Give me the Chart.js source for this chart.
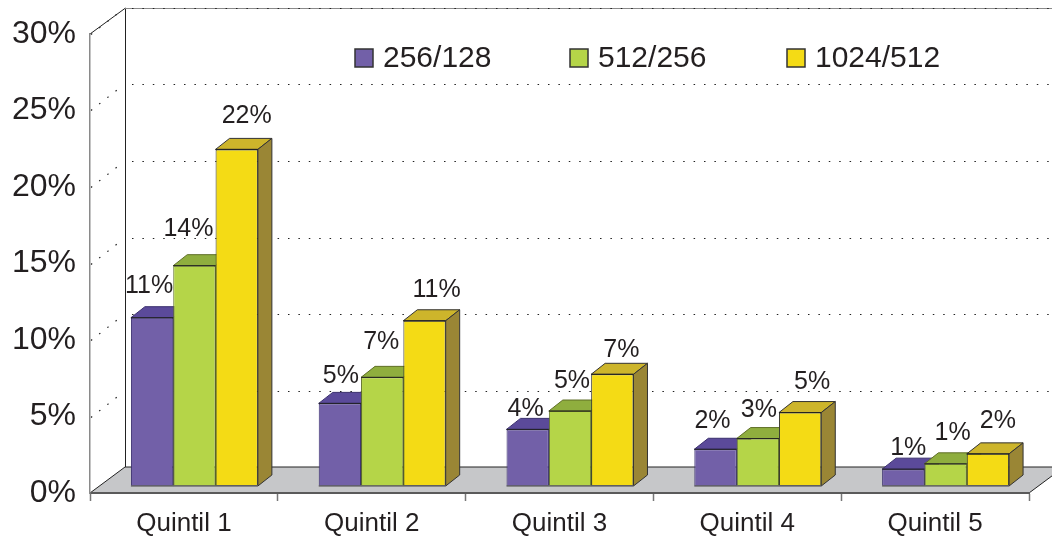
<!DOCTYPE html>
<html>
<head>
<meta charset="utf-8">
<title>Quintil</title>
<script src="https://cdn.jsdelivr.net/npm/chart.js@4"></script>
<style>
    html, body { margin: 0; padding: 0; background: #fff; }
    #wrap { width: 1052px; height: 539px; }
</style>
</head>
<body>
<div id="wrap"><canvas id="myChart"></canvas></div>
<script>
var categories = ['Quintil 1', 'Quintil 2', 'Quintil 3', 'Quintil 4', 'Quintil 5'];
var seriesNames = ['256/128', '512/256', '1024/512'];
var low = [11, 5.4, 3.7, 2.4, 1.1];
var mid = [14.4, 7.1, 4.9, 3.1, 1.45];
var high = [22, 10.8, 7.3, 4.8, 2.1];
var yTicks = [0, 5, 10, 15, 20, 25, 30];

// label offsets from the bar's top centre, the original labels were placed by hand
var lowLabelShift = [[-3, -34], [1, -29], [-2, -22], [-3, -30], [5, -23]];
var midLabelShift = [[-6, -39], [-1, -37], [2, -32], [1, -30], [7, -33]];
var highLabelShift = [[10, -35], [12, -33], [9, -26], [12, -32], [10, -35]];

var legendBoxX = [355, 570, 787];

var ink = '#231f20';
var DEPTH_X = 14, DEPTH_Y = 11;      // depth of one bar
var SHIFT_X = 10.5, SHIFT_Y = 7;     // bars stand a bit behind the front edge
var WALL_X = 35, WALL_Y = 26;        // depth of the floor

function poly(ctx, pts, fill, stroke) {
    ctx.beginPath();
    ctx.moveTo(pts[0][0], pts[0][1]);
    for (var i = 1; i < pts.length; i++) ctx.lineTo(pts[i][0], pts[i][1]);
    ctx.closePath();
    if (fill) { ctx.fillStyle = fill; ctx.fill(); }
    if (stroke) { ctx.strokeStyle = stroke; ctx.lineWidth = 1; ctx.stroke(); }
}

function hline(ctx, x1, x2, y, color, width) {
    ctx.strokeStyle = color;
    ctx.lineWidth = width;
    ctx.beginPath();
    ctx.moveTo(x1, y);
    ctx.lineTo(x2, y);
    ctx.stroke();
}

var wallsPlugin = {
    id: 'walls',
    beforeDraw: function(chart) {
        var ctx = chart.ctx, a = chart.chartArea, y = chart.scales.y;
        ctx.save();
        poly(ctx, [[a.left, a.bottom], [a.left + WALL_X, a.bottom - WALL_Y], [a.right + WALL_X, a.bottom - WALL_Y], [a.right, a.bottom]], '#c6c7c9');
        ctx.lineWidth = 1;
        ctx.strokeStyle = '#222';
        ctx.beginPath();
        ctx.moveTo(a.left, a.bottom);
        ctx.lineTo(a.left + WALL_X, a.bottom - WALL_Y);
        ctx.lineTo(a.right + WALL_X, a.bottom - WALL_Y);
        ctx.moveTo(a.right, a.bottom);
        ctx.lineTo(a.right + WALL_X, a.bottom - WALL_Y);
        ctx.moveTo(a.left + WALL_X + 0.5, a.bottom - WALL_Y);
        ctx.lineTo(a.left + WALL_X + 0.5, a.top - WALL_Y);
        ctx.lineTo(a.left, a.top);
        ctx.stroke();
        // grey top line under the dots of 30%
        hline(ctx, a.left + WALL_X, a.right + WALL_X, a.top - WALL_Y + 0.5, '#8a8a8a', 1);
        // dotted grid on the back wall and on the side wall
        ctx.strokeStyle = '#222';
        ctx.lineWidth = 1.2;
        ctx.setLineDash([1.5, 8.9]);
        yTicks.forEach(function(v) {
            if (v === 0) return;
            var py = Math.round(y.getPixelForValue(v)) + 0.5;
            ctx.beginPath();
            ctx.moveTo(a.left + WALL_X + 7, py - WALL_Y);
            ctx.lineTo(a.right + WALL_X, py - WALL_Y);
            ctx.stroke();
            ctx.beginPath();
            ctx.moveTo(a.left + 1, py);
            ctx.lineTo(a.left + WALL_X - 6, py - WALL_Y + 4);
            ctx.stroke();
        });
        ctx.restore();
    }
};

var bars3dPlugin = {
    id: 'bars3d',
    // bars go left to right so each one covers the side of the one before it
    beforeDatasetsDraw: function(chart) {
        var ctx = chart.ctx;
        ctx.save();
        ctx.translate(SHIFT_X, -SHIFT_Y);
        chart.getSortedVisibleDatasetMetas().forEach(function(meta) {
            var ds = chart.data.datasets[meta.index];
            meta.data.forEach(function(bar) {
                var p = bar.getProps(['x', 'y', 'base', 'width'], true);
                var l = p.x - p.width / 2, r = p.x + p.width / 2;
                poly(ctx, [[l, p.y], [l + DEPTH_X, p.y - DEPTH_Y], [r + DEPTH_X, p.y - DEPTH_Y], [r, p.y]], ds.topColor, ds.edgeColor);
                poly(ctx, [[r, p.y], [r + DEPTH_X, p.y - DEPTH_Y], [r + DEPTH_X, p.base - DEPTH_Y], [r, p.base]], ds.sideColor, ds.edgeColor);
            });
            meta.controller.draw();
            meta.data.forEach(function(bar) {
                var p = bar.getProps(['x', 'y', 'base', 'width'], true);
                var l = p.x - p.width / 2, r = p.x + p.width / 2;
                hline(ctx, l, r, p.y, '#222', 1);
                hline(ctx, l, r, p.base, '#6f6f70', 1.5);
            });
        });
        ctx.restore();
        return false;
    },
    afterDraw: function(chart) {
        var ctx = chart.ctx;
        ctx.save();
        ctx.font = '25px "Liberation Sans", Arial, sans-serif';
        ctx.fillStyle = ink;
        ctx.textAlign = 'center';
        ctx.textBaseline = 'middle';
        chart.data.datasets.forEach(function(ds, i) {
            chart.getDatasetMeta(i).data.forEach(function(bar, j) {
                var p = bar.getProps(['x', 'y'], true);
                var shift = ds.labelShift[j];
                ctx.fillText(Math.round(ds.data[j]) + '%', p.x + SHIFT_X + shift[0], p.y - SHIFT_Y + shift[1] + 2);
            });
        });
        // legend sits inside the plot, so it's drawn here
        ctx.font = '30px "Liberation Sans", Arial, sans-serif';
        ctx.textAlign = 'left';
        chart.data.datasets.forEach(function(ds, i) {
            ctx.fillStyle = ds.backgroundColor;
            ctx.strokeStyle = '#333';
            ctx.lineWidth = 1.5;
            ctx.fillRect(legendBoxX[i], 49, 18, 18);
            ctx.strokeRect(legendBoxX[i], 49, 18, 18);
            ctx.fillStyle = ink;
            ctx.fillText(ds.label, legendBoxX[i] + 28, 59);
        });
        ctx.restore();
    }
};

function makeDataset(i, values, front, top, side, edge, labelShift) {
    return {
        label: seriesNames[i],
        data: values,
        backgroundColor: front,
        topColor: top,
        sideColor: side,
        edgeColor: edge,
        labelShift: labelShift,
        borderColor: edge,
        borderWidth: 1,
        borderSkipped: false,
        categoryPercentage: 0.676,
        barPercentage: 1
    };
}

var ctx = document.getElementById('myChart').getContext('2d');
var myChart = new Chart(ctx, {
    type: 'bar',
    data: {
        labels: categories,
        datasets: [
            makeDataset(0, low, '#7260a8', '#5b4a9a', '#4e3f86', '#3a2f6e', lowLabelShift),
            makeDataset(1, mid, '#b5d548', '#8fae3e', '#7d9636', '#5f6f26', midLabelShift),
            makeDataset(2, high, '#f4db15', '#cdb52b', '#9a8635', '#333', highLabelShift)
        ]
    },
    plugins: [wallsPlugin, bars3dPlugin],
    options: {
        responsive: true,
        maintainAspectRatio: false,
        animation: false,
        layout: { padding: { top: 34, right: 23, left: 0, bottom: 0 } },
        plugins: {
            legend: { display: false },
            tooltip: { enabled: false }
        },
        scales: {
            x: {
                afterFit: function(scale) { scale.height = 46; },
                grid: { drawOnChartArea: false, color: '#777', tickLength: 8, tickWidth: 1.5 },
                border: { color: '#5a5a5a', width: 2 },
                ticks: { color: ink, padding: 7, maxRotation: 0, font: { family: '"Liberation Sans", Arial, sans-serif', size: 26 } }
            },
            y: {
                min: 0,
                max: 30,
                afterFit: function(scale) { scale.width = 90; },
                afterBuildTicks: function(scale) {
                    scale.ticks = yTicks.map(function(v) { return { value: v }; });
                },
                grid: { display: false },
                border: { color: '#8a8a8a', width: 1.5 },
                ticks: {
                    color: ink,
                    padding: 6,
                    font: { family: '"Liberation Sans", Arial, sans-serif', size: 32 },
                    callback: function(v) { return v + '%'; }
                }
            }
        }
    }
});
</script>
</body>
</html>
